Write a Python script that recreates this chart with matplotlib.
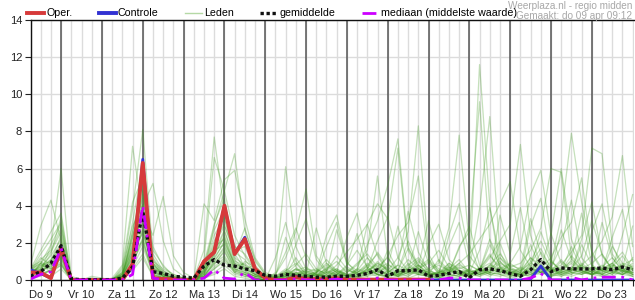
"""
Weerplaza neerslagpluim (regio midden), 6-uurlijkse neerslag in mm.
"""
import numpy as np
import matplotlib.pyplot as plt
from matplotlib.lines import Line2D

plt.rcParams['font.family'] = ['Liberation Sans', 'DejaVu Sans']

# time axis: hours since do 9 apr 00:00, every 6 hours
hours = np.arange(6, 361, 6)
day_labels = ["Do 9", "Vr 10", "Za 11", "Zo 12", "Ma 13", "Di 14", "Wo 15",
              "Do 16", "Vr 17", "Za 18", "Zo 19", "Ma 20", "Di 21", "Wo 22",
              "Do 23"]

# operational run (shorter, ends at za 18 24:00)
oper = [0.4, 0.4, 0.1, 1.7, 0, 0, 0, 0, 0, 0, 0.85, 6.3, 0.1, 0.05, 0.05, 0,
        0, 1.0, 1.5, 4.0, 1.4, 2.2, 0.6, 0.1, 0, 0, 0.15, 0.05, 0.05, 0.05, 0.1, 0.02,
        0.02, 0.02, 0.02, 0.02, 0.02, 0.02, 0.02, 0.02]

controle = [0.55, 0.35, 0.1, 1.8, 0, 0, 0, 0, 0, 0, 0.7, 6.5, 0.1, 0.05, 0.05, 0,
            0, 1.0, 1.5, 4.0, 1.4, 2.3, 0.6, 0.1, 0, 0, 0.2, 0.05, 0.05, 0.05, 0.1, 0.02,
            0.02, 0.02, 0.02, 0.02, 0.02, 0.02, 0.02, 0.02, 0, 0, 0, 0, 0, 0, 0, 0,
            0, 0.05, 0.75, 0, 0, 0, 0, 0, 0, 0, 0, 0]

gemiddelde = [0.2, 0.45, 0.9, 1.85, 0.05, 0.02, 0.02, 0.02, 0.02, 0.1, 0.7, 3.7,
              0.45, 0.35, 0.2, 0.15, 0.1, 0.75, 1.1, 0.8, 0.75, 0.6, 0.5, 0.25,
              0.2, 0.3, 0.25, 0.2, 0.15, 0.15, 0.2, 0.2, 0.25, 0.35, 0.55, 0.2,
              0.5, 0.5, 0.55, 0.2, 0.25, 0.35, 0.45, 0.12, 0.55, 0.6, 0.5, 0.35,
              0.2, 0.55, 1.1, 0.45, 0.65, 0.6, 0.6, 0.6, 0.65, 0.55, 0.7, 0.55]

mediaan = [0.05, 0.3, 0.45, 1.7, 0, 0, 0, 0, 0, 0, 0.3, 4.0, 0.1, 0, 0, 0,
           0, 0.1, 0.55, 0.1, 0.05, 0.4, 0, 0, 0, 0, 0.05, 0, 0, 0, 0.05, 0,
           0, 0, 0.1, 0, 0, 0, 0, 0, 0, 0.1, 0.1, 0, 0, 0, 0, 0,
           0, 0.1, 0.35, 0, 0, 0.15, 0, 0.1, 0.15, 0.15, 0.15, 0]

# ensemble members (Leden)
leden = [
    [0.4, 1.1, 1.6, 2.8, 0, 0, 0, 0, 0, 0.3, 2.2, 4.6, 1.2, 0.4, 0.1, 0, 0, 0.6, 2.4, 3.4,
     1.1, 0.5, 0.2, 0, 0, 0.1, 0.4, 0.2, 0.1, 0.3, 0.6, 0.2, 0.2, 0.8, 1.4, 0.5, 0.2, 0.6, 1.1, 0.4,
     0.3, 0.9, 0.5, 0.5, 11.6, 4.0, 0.6, 0.3, 0.2, 0.6, 0.4, 0.2, 0.5, 1.3, 0.7, 0.3, 0.4, 0.9, 1.5, 0.6],
    [0.2, 0.5, 1.8, 6.0, 0.1, 0, 0, 0, 0, 0.1, 1.5, 3.2, 0.6, 0.2, 0, 0, 0, 0.2, 1.0, 1.8,
     0.7, 0.9, 0.4, 0.1, 0, 0.3, 1.2, 0.4, 0.2, 0.1, 0.3, 0.8, 1.6, 0.7, 0.3, 0.2, 0.5, 1.7, 0.8, 0.3,
     0.1, 0.4, 1.8, 2.6, 9.6, 2.1, 0.7, 0.2, 0.4, 1.2, 0.6, 0.3, 0.2, 0.5, 1.9, 0.8, 0.3, 0.6, 0.4, 1.2],
    [0.6, 0.9, 0.7, 1.3, 0, 0, 0, 0, 0.1, 0.8, 7.2, 3.5, 0.9, 0.3, 0.1, 0, 0, 0.4, 1.8, 2.2,
     0.8, 0.4, 0.2, 0.1, 0.2, 0.5, 0.3, 0.1, 0.4, 1.1, 0.5, 0.2, 0.1, 0.3, 0.7, 1.2, 0.4, 0.2, 0.6, 1.0,
     0.5, 0.3, 0.2, 0.6, 3.8, 8.8, 1.5, 0.4, 0.3, 0.2, 0.8, 0.5, 1.1, 0.4, 0.3, 0.7, 0.5, 1.8, 0.9, 0.3],
    [0.3, 0.6, 1.1, 2.0, 0, 0, 0.1, 0, 0, 0.5, 3.8, 8.1, 1.4, 0.5, 0.2, 0.1, 0, 0.9, 3.0, 4.4,
     1.5, 1.1, 0.4, 0.1, 0, 0.2, 0.6, 0.3, 0.2, 0.5, 1.3, 0.6, 0.3, 0.4, 0.9, 0.5, 1.2, 2.6, 8.3, 1.4,
     0.4, 0.7, 0.3, 0.2, 0.6, 1.4, 0.5, 0.3, 0.2, 0.9, 1.7, 0.6, 0.3, 0.5, 0.8, 0.4, 0.7, 1.2, 0.5, 0.3],
    [0.1, 0.4, 0.9, 1.6, 0, 0, 0, 0, 0, 0.2, 1.2, 2.8, 0.5, 0.1, 0, 0, 0.1, 1.6, 7.7, 3.6,
     1.9, 0.6, 0.3, 0.1, 0, 0.1, 0.2, 0.5, 0.3, 0.2, 0.4, 0.1, 0.5, 1.2, 0.6, 0.3, 0.2, 0.4, 0.8, 0.3,
     0.1, 0.6, 1.1, 0.4, 0.3, 0.5, 0.9, 0.6, 0.4, 1.0, 2.1, 0.9, 3.4, 7.9, 4.2, 1.5, 0.6, 0.9, 0.4, 0.8],
    [0.5, 1.4, 2.2, 3.1, 0, 0, 0, 0, 0, 0.1, 2.6, 5.2, 0.7, 0.3, 0.1, 0, 0, 1.1, 6.6, 4.8,
     2.4, 1.3, 0.5, 0.2, 0.1, 0.3, 0.2, 0.1, 0.4, 0.9, 0.5, 0.3, 0.2, 0.6, 1.5, 0.7, 0.3, 0.5, 0.4, 0.6,
     0.9, 2.8, 7.8, 1.9, 0.5, 0.7, 0.3, 0.2, 0.3, 0.6, 0.4, 1.0, 0.5, 0.3, 0.6, 0.9, 1.4, 0.6, 0.3, 0.5],
    [0.3, 0.8, 1.0, 1.9, 0, 0, 0, 0, 0, 0.4, 3.1, 6.2, 0.9, 0.2, 0.1, 0, 0, 0.5, 2.9, 4.8,
     6.8, 2.7, 1.0, 0.3, 0.1, 0.5, 0.9, 0.3, 0.2, 0.6, 0.3, 0.1, 0.6, 1.9, 3.2, 5.1, 7.6, 1.8, 0.6, 0.3,
     0.2, 0.5, 0.9, 0.4, 0.6, 1.3, 0.7, 0.4, 0.3, 0.8, 0.5, 0.2, 0.4, 1.1, 0.6, 0.3, 0.5, 0.7, 1.3, 0.5],
    [0.7, 1.0, 0.6, 0.9, 0, 0, 0, 0, 0, 0.2, 1.8, 4.1, 1.0, 0.6, 0.3, 0.1, 0, 0.3, 1.4, 2.6,
     1.2, 0.8, 0.5, 0.2, 0.3, 1.2, 2.6, 4.9, 1.3, 0.5, 0.2, 0.1, 0.3, 0.5, 0.8, 0.4, 0.2, 0.7, 0.5, 0.3,
     0.4, 0.9, 0.6, 0.8, 0.5, 1.2, 2.1, 3.0, 7.3, 2.4, 0.8, 0.4, 0.6, 0.4, 0.9, 0.5, 0.3, 0.8, 0.5, 0.2],
    [0.2, 0.3, 0.5, 1.2, 0, 0, 0, 0.1, 0, 0.1, 0.9, 2.3, 0.4, 0.1, 0, 0, 0, 0.2, 0.9, 1.5,
     0.6, 0.3, 0.1, 0, 0.4, 6.1, 1.8, 0.6, 0.3, 0.2, 0.5, 0.3, 0.1, 0.4, 0.6, 0.2, 0.3, 0.9, 0.4, 0.2,
     0.5, 0.3, 0.7, 0.4, 0.2, 0.6, 1.0, 0.5, 0.3, 0.7, 0.4, 0.6, 0.8, 1.5, 2.4, 7.1, 6.8, 1.9, 0.6, 0.3],
    [0.4, 0.7, 1.3, 2.2, 0, 0, 0, 0, 0, 0.3, 2.4, 3.9, 1.6, 0.8, 0.2, 0, 0, 0.7, 1.9, 2.9,
     1.6, 1.8, 0.6, 0.2, 0, 0.2, 0.5, 0.7, 0.3, 0.6, 1.0, 0.4, 0.8, 1.6, 5.6, 1.2, 0.5, 0.3, 0.6, 0.4,
     0.2, 0.8, 0.5, 0.3, 0.6, 0.9, 0.4, 0.5, 0.2, 0.5, 1.1, 0.6, 0.4, 0.3, 0.8, 1.3, 2.1, 3.4, 6.7, 1.8],
    [0.6, 0.5, 0.8, 1.5, 0, 0, 0, 0, 0, 0.2, 1.3, 3.0, 0.5, 0.2, 0, 0, 0, 0.4, 1.2, 2.0,
     0.9, 0.6, 0.3, 0.1, 0.1, 0.3, 0.2, 0.4, 0.6, 0.3, 0.8, 1.5, 2.2, 3.0, 4.1, 3.3, 7.1, 1.6, 0.5, 0.2,
     0.4, 0.6, 0.3, 0.5, 0.3, 0.8, 1.4, 0.7, 0.9, 1.6, 2.8, 6.0, 5.8, 1.2, 0.5, 0.3, 0.6, 0.4, 0.9, 0.7],
    [0.1, 0.2, 0.6, 1.0, 0, 0, 0, 0, 0, 0, 0.7, 1.8, 0.3, 0.1, 0, 0, 0, 0.1, 0.6, 1.1,
     0.5, 0.3, 0.1, 0, 0, 0.1, 0.3, 0.2, 0.1, 0.4, 0.2, 0.1, 0.2, 0.3, 0.5, 0.2, 0.4, 0.6, 0.3, 0.2,
     0.1, 0.3, 0.5, 0.3, 0.4, 0.2, 0.6, 0.9, 1.8, 4.6, 5.9, 2.4, 6.0, 2.2, 0.8, 0.4, 0.3, 0.6, 0.5, 0.4],
    [0.3, 0.9, 0.4, 0.8, 0, 0, 0, 0, 0, 0.4, 1.6, 2.5, 0.8, 0.4, 0.1, 0, 0, 0.3, 0.8, 1.6,
     0.4, 1.0, 0.7, 0.2, 0.1, 0.4, 0.3, 0.2, 0.5, 0.2, 0.3, 0.7, 0.4, 0.9, 0.5, 1.3, 2.4, 3.1, 5.6, 1.1,
     0.3, 0.5, 0.4, 0.2, 0.7, 0.4, 0.3, 0.6, 0.5, 0.9, 0.6, 1.2, 2.3, 3.1, 5.5, 1.4, 0.5, 0.3, 0.7, 0.4],
    [0.2, 0.6, 1.4, 3.4, 0.1, 0, 0, 0, 0, 0.6, 2.9, 4.0, 5.2, 2.1, 0.6, 0.2, 0, 0.5, 1.6, 1.9,
     0.6, 0.4, 0.2, 0.1, 0.2, 0.1, 0.4, 0.3, 0.1, 0.5, 0.3, 0.2, 0.6, 0.4, 0.2, 0.5, 0.3, 0.8, 1.2, 0.6,
     0.2, 0.4, 0.9, 1.4, 2.2, 3.0, 4.1, 5.3, 1.6, 0.7, 0.4, 0.3, 0.5, 0.9, 0.4, 0.6, 0.3, 0.5, 0.8, 1.1],
    [0.8, 2.9, 4.3, 2.1, 0.2, 0, 0, 0, 0, 0.3, 1.9, 3.6, 2.4, 4.5, 1.3, 0.4, 0.1, 0.2, 0.9, 1.3,
     0.5, 0.3, 0.1, 0, 0, 0.2, 0.6, 0.4, 0.3, 0.1, 0.2, 0.5, 0.4, 0.7, 0.3, 0.2, 0.5, 0.4, 0.7, 1.1,
     0.6, 0.3, 0.2, 0.5, 0.4, 0.8, 0.6, 0.3, 0.2, 0.4, 0.7, 0.5, 0.6, 1.0, 0.5, 0.3, 0.4, 0.7, 0.5, 0.9],
    [0.3, 0.4, 0.9, 1.8, 0, 0, 0, 0, 0, 0.1, 1.1, 2.7, 0.6, 0.3, 0.1, 0, 0, 4.1, 3.2, 5.4,
     5.9, 3.3, 1.2, 0.4, 0.2, 0.6, 0.3, 0.1, 0.4, 0.8, 0.4, 0.2, 0.3, 0.5, 0.9, 0.6, 0.2, 0.4, 0.3, 0.5,
     0.8, 0.5, 0.3, 0.2, 0.6, 0.4, 0.7, 0.3, 0.5, 1.2, 0.8, 0.4, 0.3, 0.6, 0.4, 0.7, 0.5, 0.8, 0.6, 0.3],
    [0.5, 1.2, 0.8, 1.1, 0, 0, 0.2, 0.1, 0, 0.2, 1.4, 2.1, 0.3, 0.1, 0, 0, 0, 0.5, 1.3, 2.4,
     0.9, 0.7, 0.3, 0.1, 0, 0.3, 0.8, 1.4, 0.6, 0.3, 0.2, 0.4, 0.9, 1.4, 0.7, 0.3, 0.4, 1.1, 0.6, 0.9,
     1.6, 0.7, 0.4, 0.3, 0.5, 1.9, 0.8, 0.4, 0.3, 0.7, 2.6, 1.1, 0.4, 0.6, 1.3, 3.2, 1.4, 0.5, 0.3, 0.6],
    [0.1, 0.3, 0.2, 0.6, 0, 0, 0, 0, 0, 0.1, 0.6, 1.4, 0.2, 0, 0, 0, 0, 0.1, 0.4, 0.8,
     0.3, 0.2, 0.1, 0, 0, 0, 0.1, 0.2, 0.1, 0.2, 0.1, 0, 0.1, 0.2, 0.3, 0.1, 0.2, 0.1, 0.3, 0.2,
     0.1, 0.2, 0.1, 0.3, 0.2, 0.4, 0.3, 0.1, 0.2, 0.3, 0.5, 0.2, 0.3, 0.2, 0.4, 0.3, 0.2, 0.4, 0.3, 0.2],
    [0.4, 0.7, 1.1, 1.7, 0, 0, 0, 0, 0, 0.3, 2.0, 3.3, 0.7, 0.2, 0.1, 0, 0, 0.4, 1.1, 2.1,
     0.7, 0.5, 0.2, 0.1, 0.1, 0.2, 0.4, 0.3, 0.2, 0.4, 0.6, 0.3, 0.5, 0.3, 0.4, 0.8, 0.6, 0.4, 1.0, 0.5,
     0.3, 0.6, 0.4, 0.3, 0.4, 0.7, 0.5, 0.2, 0.3, 0.5, 0.4, 0.3, 0.4, 0.6, 0.3, 0.5, 0.2, 0.4, 0.6, 0.4],
    [0.2, 0.5, 0.7, 1.4, 0, 0, 0, 0, 0, 0.2, 1.7, 4.8, 0.9, 0.5, 0.2, 0.1, 0, 0.6, 2.1, 3.0,
     1.3, 2.8, 1.1, 0.3, 0.1, 0.4, 0.2, 0.1, 0.3, 0.2, 0.5, 0.2, 0.2, 0.6, 0.3, 0.4, 0.8, 0.5, 0.3, 0.2,
     0.4, 0.2, 0.3, 0.6, 0.3, 0.5, 1.2, 0.7, 0.4, 0.3, 0.6, 0.5, 0.7, 0.4, 0.5, 0.3, 0.6, 0.9, 0.4, 0.2],
    [0.6, 1.6, 2.6, 3.6, 0.1, 0, 0, 0, 0, 0.7, 4.2, 5.5, 1.8, 0.7, 0.3, 0.1, 0, 0.8, 2.7, 3.8,
     1.8, 1.4, 0.6, 0.2, 0, 0.1, 0.3, 0.5, 0.2, 0.7, 0.4, 0.2, 0.4, 0.2, 0.6, 0.9, 0.3, 0.5, 0.8, 0.4,
     0.2, 0.7, 0.5, 0.3, 0.5, 0.3, 0.4, 0.8, 0.6, 0.4, 1.5, 0.7, 0.3, 0.5, 0.7, 0.4, 0.8, 0.5, 0.3, 0.6],
    [0.3, 0.4, 0.5, 0.9, 0, 0, 0, 0, 0, 0.1, 1.0, 2.0, 0.4, 0.2, 0, 0, 0, 0.2, 0.7, 1.2,
     0.4, 0.3, 0.1, 0, 0, 0.2, 0.1, 0.3, 0.4, 0.2, 0.1, 0.3, 0.2, 0.5, 0.3, 0.2, 0.3, 0.2, 0.5, 0.3,
     0.4, 0.3, 0.2, 0.4, 0.6, 0.3, 0.2, 0.4, 0.3, 0.2, 0.4, 0.6, 0.2, 0.4, 0.3, 0.5, 0.3, 0.2, 0.5, 0.4],
    [0.5, 0.6, 1.0, 2.4, 0, 0, 0.1, 0, 0, 0.2, 1.5, 3.8, 1.1, 0.3, 0.1, 0, 0, 0.3, 1.5, 2.7,
     1.0, 0.8, 0.3, 0.1, 0.1, 0.3, 0.6, 0.2, 0.3, 0.1, 0.3, 0.6, 0.3, 0.4, 1.0, 0.5, 0.2, 0.6, 0.4, 0.3,
     1.1, 0.5, 0.3, 0.2, 0.3, 0.6, 0.4, 0.9, 0.5, 0.3, 0.6, 0.4, 1.0, 0.6, 0.4, 0.3, 0.5, 0.3, 0.8, 0.6],
    [0.2, 0.9, 1.5, 2.6, 0, 0, 0, 0, 0, 0.3, 2.3, 4.4, 0.6, 0.4, 0.2, 0, 0, 0.4, 1.7, 3.3,
     1.4, 0.6, 0.8, 0.2, 0.2, 0.4, 0.3, 0.6, 0.5, 0.4, 0.3, 0.2, 0.4, 0.8, 0.5, 0.3, 0.5, 0.3, 0.6, 0.4,
     0.2, 0.4, 0.8, 0.5, 0.3, 0.4, 0.6, 0.3, 0.7, 0.4, 0.3, 0.5, 0.4, 0.7, 0.5, 0.3, 0.6, 0.4, 0.3, 0.7],
    [0.3, 0.5, 0.9, 1.5, 0, 0, 0, 0, 0, 0.2, 1.2, 2.6, 0.5, 0.2, 0.1, 0, 0, 0.3, 1.0, 1.7,
     0.6, 0.4, 0.2, 0.1, 0.3, 1.5, 2.8, 1.2, 0.4, 2.4, 3.5, 1.0, 0.3, 0.6, 2.1, 3.4, 1.2, 0.5, 2.6, 0.9,
     0.4, 1.8, 3.1, 0.8, 0.5, 2.2, 1.0, 0.4, 0.6, 3.3, 1.4, 0.5, 2.7, 1.1, 3.6, 0.8, 0.5, 2.3, 3.8, 1.0],
    [0.4, 0.8, 0.6, 1.2, 0, 0, 0, 0, 0, 0.1, 0.9, 2.2, 0.3, 0.1, 0, 0, 0, 0.2, 0.6, 1.0,
     0.4, 0.2, 0.1, 0, 1.2, 3.1, 1.0, 0.3, 2.8, 0.9, 0.4, 2.3, 3.6, 1.2, 0.4, 0.7, 2.9, 0.8, 0.3, 1.9,
     3.0, 1.1, 0.5, 0.4, 1.6, 3.9, 1.2, 0.5, 0.4, 1.9, 0.6, 2.5, 0.9, 0.5, 2.2, 4.2, 1.3, 0.6, 2.4, 4.6],
    [0.1, 0.3, 0.5, 0.8, 0, 0, 0, 0, 0, 0.1, 0.5, 1.2, 0.2, 0.1, 0, 0, 0, 0.1, 0.3, 0.6,
     0.2, 0.1, 0, 0, 0, 0.4, 1.9, 3.3, 1.1, 0.4, 2.7, 0.9, 0.5, 3.0, 1.3, 0.4, 0.8, 3.7, 1.5, 0.5,
     0.3, 2.4, 4.1, 1.3, 0.6, 0.3, 3.5, 1.4, 3.9, 1.0, 0.4, 0.7, 1.8, 4.3, 1.2, 0.5, 3.1, 1.2, 0.5, 0.3],
    [0.5, 0.9, 1.9, 3.0, 0, 0, 0, 0, 0, 0.4, 2.6, 4.9, 0.8, 0.3, 0.1, 0, 0, 0.5, 1.4, 2.3,
     0.8, 0.6, 0.3, 0.1, 0.2, 2.3, 0.7, 0.2, 0.3, 1.8, 3.1, 0.8, 2.5, 0.6, 0.3, 1.6, 0.5, 2.1, 0.7, 3.2,
     1.0, 0.4, 1.7, 2.9, 0.8, 0.4, 2.0, 0.6, 0.3, 2.9, 4.4, 1.0, 0.5, 1.8, 0.6, 2.6, 4.1, 1.4, 0.6, 2.9],
]

red = '#d63a3a'
blue = '#3232d2'
green = '#3f9a1f'
magenta = '#cc00ff'

fig = plt.figure(figsize=(6.35, 3.0), dpi=100)
ax = fig.add_axes([30.5 / 635, 20 / 300, 603 / 635, 260 / 300])

for m in leden:
    ax.plot(hours[:len(m)], m, color=green, lw=0.9, alpha=0.3, zorder=2)

ax.plot(hours[:len(controle)], controle, color=blue, lw=2.0, zorder=3)
ax.plot(hours[:len(oper)], oper, color=red, lw=2.8, zorder=4)
ax.plot(hours, gemiddelde, color='#111111', lw=2.4, ls=(0, (1, 0.8)), zorder=5)
ax.plot(hours, mediaan, color=magenta, lw=2.0, ls=(0, (5, 2, 1, 2)), zorder=5)

# midnight separators
for h in range(24, 360, 24):
    ax.axvline(h, color='#555555', lw=1.1, zorder=1)

ax.set_xlim(6, 360.5)
ax.set_ylim(0, 14)
ax.set_xticks(np.arange(12, 360, 24))
ax.set_xticklabels(day_labels)
ax.set_xticks(np.arange(6, 361, 6), minor=True)
ax.set_yticks(np.arange(0, 15, 2))
ax.grid(True, which='both', axis='x', color='#dcdcdc', lw=1.0, zorder=0)
ax.grid(True, which='major', axis='y', color='#dcdcdc', lw=1.0, zorder=0)
ax.set_axisbelow(True)

ax.tick_params(axis='both', which='both', direction='out', length=4, width=0.8,
               labelsize=8, colors='#222222', pad=2)
ax.tick_params(axis='x', which='major', pad=3)
for side in ['left', 'bottom', 'top']:
    ax.spines[side].set_color('#111111')
    ax.spines[side].set_linewidth(1.0)
ax.spines['right'].set_visible(False)

handles = [Line2D([], [], color=red, lw=2.8),
           Line2D([], [], color=blue, lw=2.8),
           Line2D([], [], color='#b5d9a5', lw=1.0),
           Line2D([], [], color='#111111', lw=2.4, ls=(0, (1, 0.8))),
           Line2D([], [], color=magenta, lw=2.0, ls=(0, (5, 2, 1, 2)))]
labels = ["Oper.", "Controle", "Leden", "gemiddelde", "mediaan (middelste waarde)"]
fig.legend(handles, labels, loc='center left', bbox_to_anchor=(27 / 635, 1 - 13.5 / 300),
           ncol=5, frameon=False, fontsize=7.7, handlelength=1.6, handletextpad=0.2,
           columnspacing=2.45, borderpad=0, borderaxespad=0)

fig.text(632 / 635, 1 - 6 / 300, "Weerplaza.nl - regio midden", ha='right', va='center',
         fontsize=7.2, color='#a8a8a8')
fig.text(632 / 635, 1 - 16 / 300, "Gemaakt: do 09 apr 09:12", ha='right', va='center',
         fontsize=7.2, color='#a8a8a8')

fig.savefig("out.png", dpi=100)
